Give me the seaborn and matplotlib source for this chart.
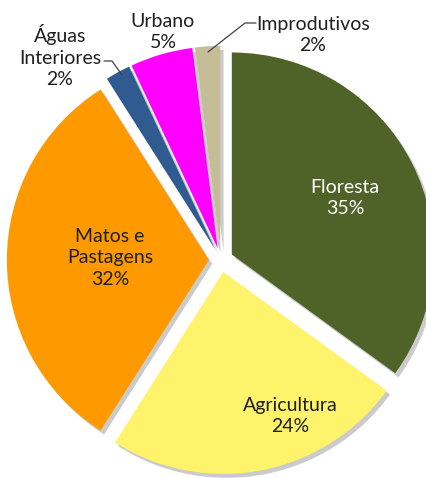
import matplotlib
matplotlib.use("Agg")
import matplotlib.pyplot as plt
import seaborn as sns

categories = ["Floresta", "Agricultura", "Matos e\nPastagens", "Águas\nInteriores", "Urbano", "Improdutivos"]
values = [35, 24, 32, 2, 5, 2]
colors = ["#4F6228", "#FFF36B", "#FF9900", "#2F5B91", "#FF00FF", "#C4BD97"]

sns.set_theme(style="white")
plt.rcParams["font.family"] = ["Lato", "DejaVu Sans"]

W, H = 427, 478
R = 202.0
cx, cy = 221.0, 260.0  # pixel center (from top)

fig = plt.figure(figsize=(W / 100, H / 100), dpi=100)
ax = fig.add_axes([0, 0, 1, 1])

def px(x, y):
    return (x - cx) / R, (cy - y) / R

wedges, _ = ax.pie(values, colors=colors, startangle=90, counterclock=False,
                   explode=[0.06] * len(values), radius=1.0,
                   wedgeprops=dict(linewidth=0),
                   shadow=dict(ox=0.012, oy=-0.014, facecolor="#8C8C8C",
                               edgecolor="none", alpha=0.45))

ax.set_xlim((0 - cx) / R, (W - cx) / R)
ax.set_ylim((cy - H) / R, cy / R)
ax.set_aspect("equal", adjustable="box")
ax.axis("off")

fs = 14
txt = "#1F1F1F"
pct = [f"{v}%" for v in values]
ls = 1.32

# inside labels
ax.text(*px(345, 198), f"{categories[0]}\n{pct[0]}", ha="center", va="center",
        fontsize=fs, color="white", linespacing=ls)
ax.text(*px(290, 416), f"{categories[1]}\n{pct[1]}", ha="center", va="center",
        fontsize=fs, color=txt, linespacing=ls)
ax.text(*px(110, 258), f"{categories[2]}\n{pct[2]}", ha="center", va="center",
        fontsize=fs, color=txt, linespacing=ls)

# outside labels
ax.text(*px(60, 56), f"{categories[3]}\n{pct[3]}", ha="center", va="center",
        fontsize=fs, color=txt, linespacing=ls)
ax.text(*px(163, 32), f"{categories[4]}\n{pct[4]}", ha="center", va="center",
        fontsize=fs, color=txt, linespacing=ls)
ax.text(*px(313, 35), f"{categories[5]}\n{pct[5]}", ha="center", va="center",
        fontsize=fs, color=txt, linespacing=ls)

# leader lines
for pts in ([(104, 61), (112, 61), (122, 75)], [(256, 23), (245, 23), (208, 52)]):
    xs, ys = zip(*[px(x, y) for x, y in pts])
    ax.plot(xs, ys, color="#404040", linewidth=0.9)

fig.savefig("out.png", dpi=100, facecolor="white")
